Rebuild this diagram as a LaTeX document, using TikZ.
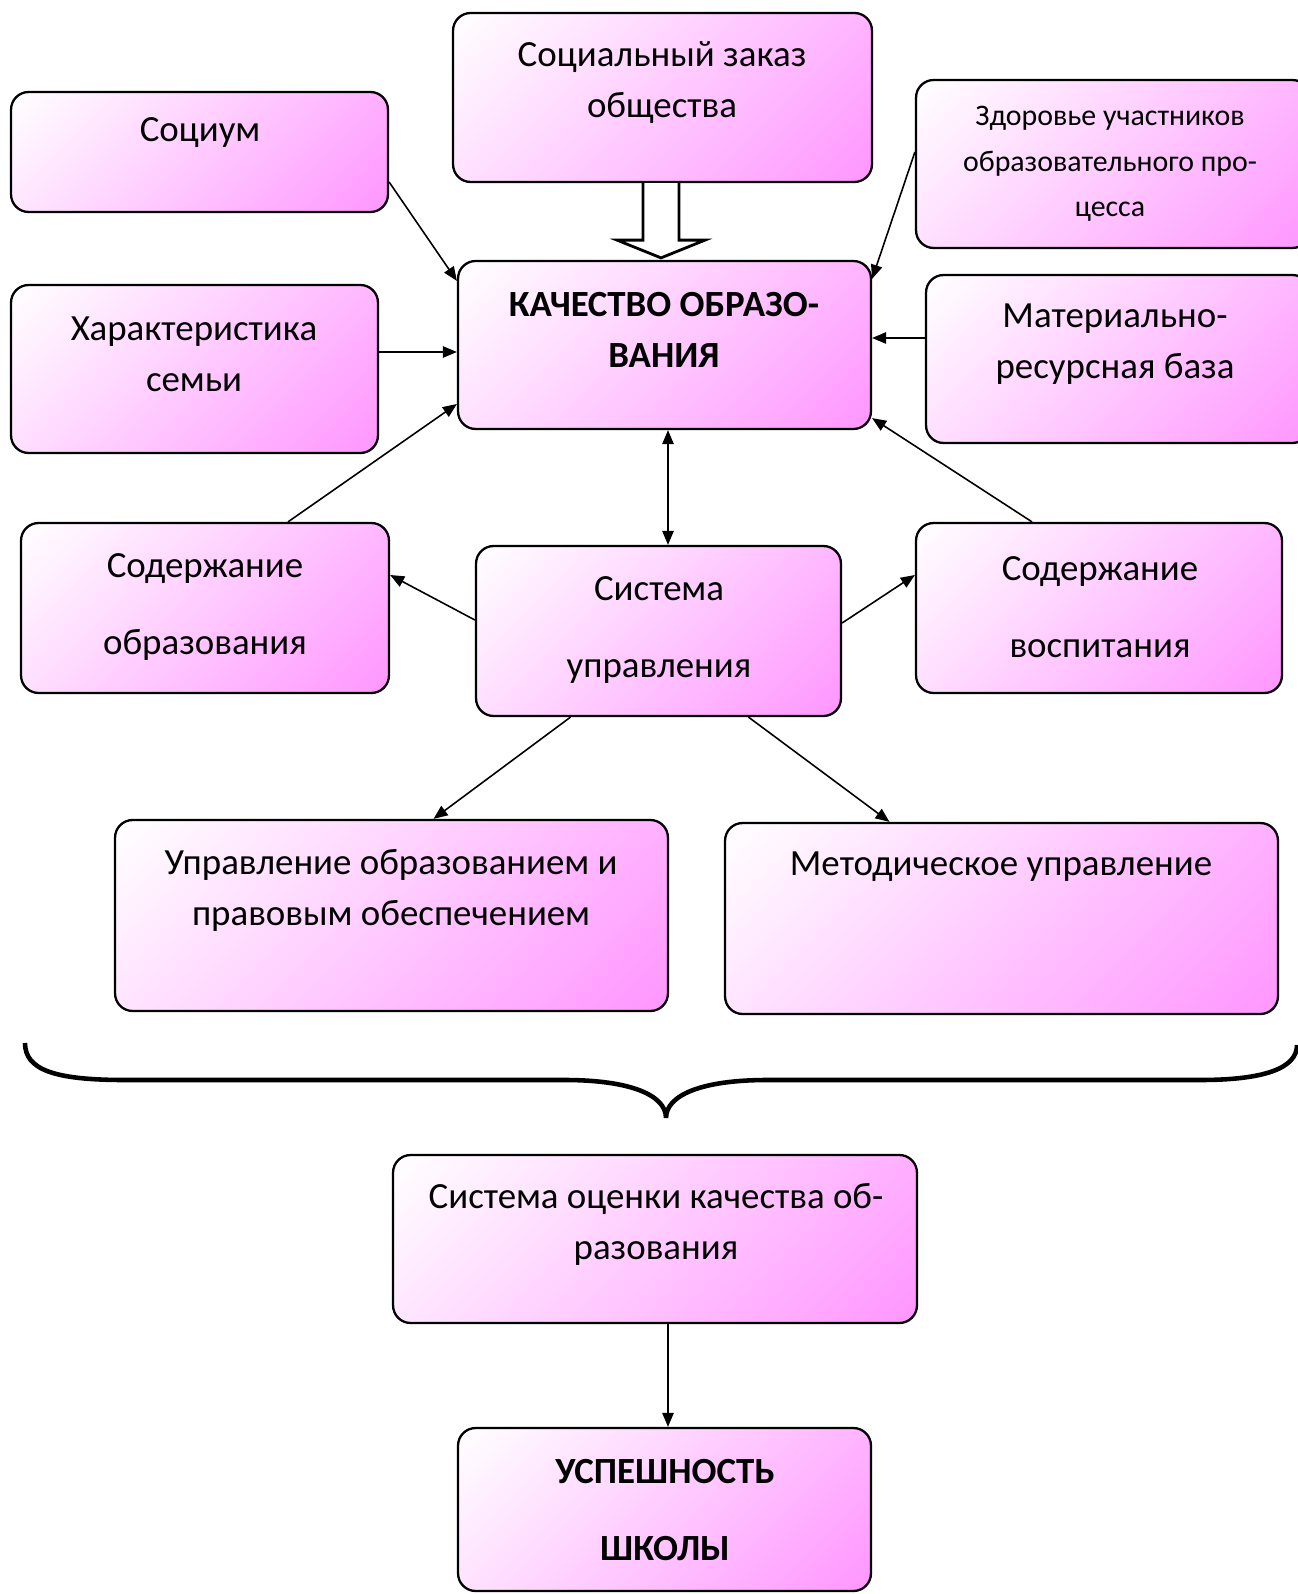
\documentclass[tikz,border=0pt]{standalone}
\usepackage{fontspec}
\setmainfont{Carlito}
\usetikzlibrary{arrows.meta,calc}
\definecolor{pinkend}{RGB}{255,150,255}
\pgfdeclareverticalshading{pinkdiag}{100bp}{color(0bp)=(pinkend); color(15bp)=(pinkend); color(85bp)=(white); color(100bp)=(white)}
\begin{document}
\begin{tikzpicture}[x=0.02cm,y=-0.02cm,
  box/.style={draw=black, line width=1.3pt, rounded corners=10pt, inner sep=0pt,
    shading=pinkdiag, shading angle=45},
  txt/.style={align=center, inner sep=0pt, font=\fontsize{21pt}{#1}\selectfont},
  txt/.default=29pt,
  arr/.style={line width=0.9pt, -{Triangle[length=8pt,width=6.5pt]}},
  darr/.style={line width=0.9pt, {Triangle[length=8pt,width=6.5pt]}-{Triangle[length=8pt,width=6.5pt]}},
  hollow/.style={line width=1.6pt, fill=white, line join=miter},
  brace/.style={line width=2.6pt, line cap=butt}
]
\useasboundingbox (0,0) rectangle (1297,1594);

% boxes
\node[box, minimum width=8.38cm, minimum height=3.38cm] (zakaz) at (662.5,97.5) {};
\node[box, minimum width=7.54cm, minimum height=2.40cm] (socium) at (199.5,152) {};
\node[box, minimum width=7.88cm, minimum height=3.36cm] (zdor) at (1113,164) {};
\node[box, minimum width=7.34cm, minimum height=3.36cm] (harakt) at (194.5,369) {};
\node[box, minimum width=8.26cm, minimum height=3.36cm] (kach) at (664.5,345) {};
\node[box, minimum width=7.68cm, minimum height=3.36cm] (mat) at (1118,359) {};
\node[box, minimum width=7.36cm, minimum height=3.40cm] (sodobr) at (205,608) {};
\node[box, minimum width=7.30cm, minimum height=3.40cm] (sist) at (658.5,631) {};
\node[box, minimum width=7.32cm, minimum height=3.40cm] (sodvos) at (1099,608) {};
\node[box, minimum width=11.06cm, minimum height=3.82cm] (uprobr) at (391.5,915.5) {};
\node[box, minimum width=11.06cm, minimum height=3.82cm] (metod) at (1001.5,918.5) {};
\node[box, minimum width=10.48cm, minimum height=3.36cm] (ocenka) at (655,1239) {};
\node[box, minimum width=8.26cm, minimum height=3.26cm] (uspeh) at (664.5,1509.5) {};

% texts
\node[txt] (tzakaz) at (662,83) {Социальный заказ\\общества};
\node[txt] (tsocium) at (200,133) {Социум};
\node[txt=26pt, font=\fontsize{17pt}{26pt}\selectfont] (tzdor) at (1110,164) {Здоровье участников\\образовательного про-\\цесса};
\node[txt] (tharakt) at (194,354) {Характеристика\\семьи};
\node[txt, font=\fontsize{21pt}{29pt}\selectfont\bfseries] (tkach) at (664,330) {КАЧЕСТВО ОБРАЗО-\\ВАНИЯ};
\node[txt] (tmat) at (1115,344) {Материально-\\ресурсная база};
\node[txt=44pt] (tsodobr) at (205,607) {Содержание\\образования};
\node[txt=44pt] (tsist) at (659,630) {Система\\управления};
\node[txt=44pt] (tsodvos) at (1100,607) {Содержание\\воспитания};
\node[txt] (tuprobr) at (391,890) {Управление образованием и\\правовым обеспечением};
\node[txt] (tmetod) at (1001,867) {Методическое управление};
\node[txt] (tocenka) at (656,1224) {Система оценки качества об-\\разования};
\node[txt=44pt, font=\fontsize{21pt}{44pt}\selectfont\bfseries] (tuspeh) at (665,1510) {УСПЕШНОСТЬ\\ШКОЛЫ};

% hollow arrow
\draw[hollow] ($(zakaz.south)+(-19.5,0)$) -- ++(0,57) -- ++(-26,0)
  -- ($(kach.north)+(-3.5,-2)$) -- ($(zakaz.south)+(42.5,57)$) -- ++(-26,0)
  -- ($(zakaz.south)+(16.5,0)$);

% connectors
\draw[arr] ($(socium.east)+(0,30)$) -- ($(kach.north west)+(0,21)$);
\draw[arr] ($(harakt.east)+(0,-17)$) -- ($(kach.west)+(0,7)$);
\draw[arr] ($(sodobr.north)+(83,0)$) -- ($(kach.west)+(0,59)$);
\draw[arr] ($(zdor.west)+(0,-12)$) -- ($(kach.north east)+(0,19)$);
\draw[arr] ($(mat.west)+(0,-21)$) -- ($(kach.east)+(0,-7)$);
\draw[arr] ($(sodvos.north)+(-67,0)$) -- ($(kach.south east)+(0,-12)$);
\draw[darr] ($(kach.south)+(3.5,0)$) -- ($(sist.north)+(9.5,0)$);
\draw[arr] ($(sist.west)+(0,-11)$) -- ($(sodobr.east)+(0,-33)$);
\draw[arr] ($(sist.east)+(0,-8)$) -- ($(sodvos.west)+(0,-33)$);
\draw[arr] ($(sist.south)+(-88,0)$) -- ($(uprobr.north)+(42,0)$);
\draw[arr] ($(sist.south)+(90,0)$) -- ($(metod.north)+(-112,0)$);
\draw[arr] ($(ocenka.south)+(13,0)$) -- ($(uspeh.north)+(3.5,0)$);

% brace
\draw[brace] (25,1043) .. controls (25,1070) and (55,1080) .. (125,1080)
  -- (565,1080) .. controls (630,1080) and (666,1095) .. (666,1118)
  .. controls (666,1095) and (702,1080) .. (767,1080)
  -- (1200,1080) .. controls (1265,1080) and (1297,1068) .. (1297,1045);
\end{tikzpicture}
\end{document}
